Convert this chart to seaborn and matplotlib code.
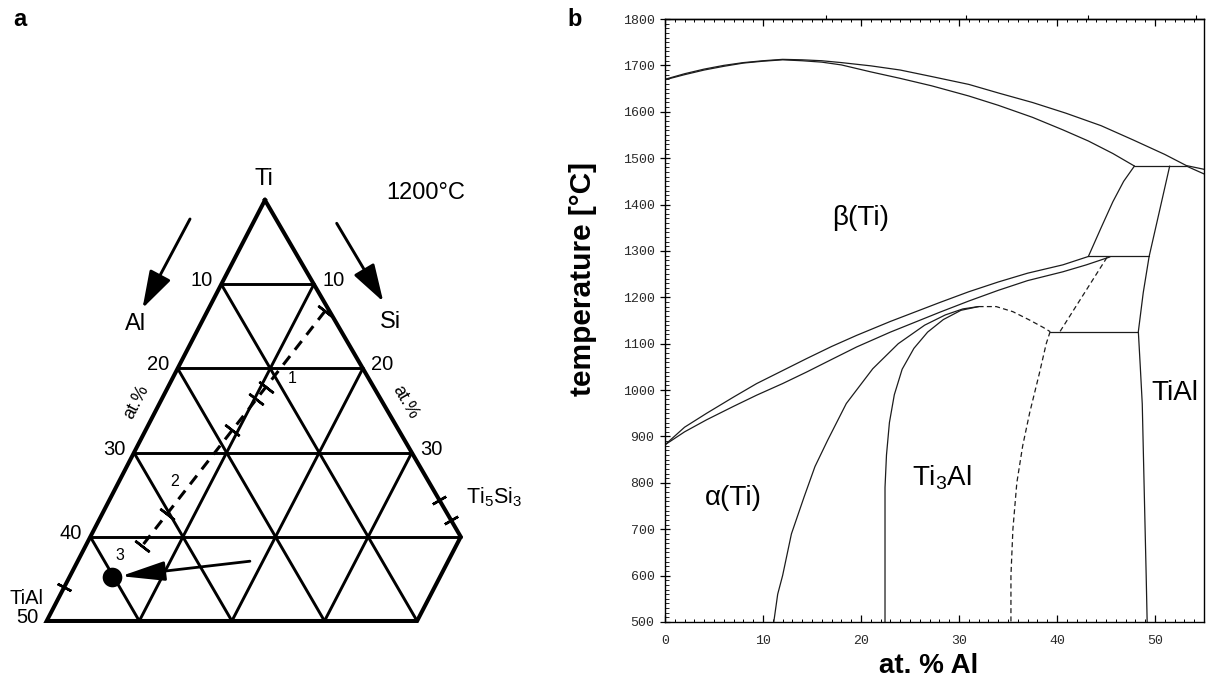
import numpy as np
import pandas as pd
import matplotlib
matplotlib.use("Agg")
import matplotlib.pyplot as plt
from matplotlib.ticker import MultipleLocator
import seaborn as sns

# ================= Panel b : Ti-Al binary phase diagram =================
# composition in at.% Al, temperature in degC
liq_x = [0, 2, 4, 6, 8, 10, 12, 14, 16, 18, 21, 24, 27.2, 31, 34.1, 37.5, 40.9, 44.5, 47.8, 51, 53.2, 55]
liq_t = [1670, 1682, 1692, 1700, 1706, 1710, 1713, 1712, 1710, 1706, 1699, 1690, 1676, 1659, 1640, 1620, 1597, 1570, 1539, 1508, 1484, 1476]
sol_x = [0, 2, 4, 6, 8, 10, 12, 14, 16, 18, 21, 24, 27.2, 31, 34, 37.5, 40.6, 43.2, 45.7, 47.9]
sol_t = [1669, 1680, 1690, 1698, 1705, 1709, 1712, 1710, 1707, 1701, 1686, 1672, 1656, 1634, 1614, 1588, 1561, 1537, 1510, 1483]
peri_x = [47.9, 53.2]
peri_t = [1483, 1483]
liq2_x = [53.2, 55]
liq2_t = [1483, 1466]
btr_x = [47.9, 46.8, 45.7, 44.5, 43.2]
btr_t = [1483, 1450, 1406, 1350, 1288]
tial_x = [51.5, 50.5, 49.4, 48.8, 48.3, 48.5, 48.7, 48.9, 49.1, 49.2]
tial_t = [1483, 1390, 1288, 1210, 1126, 1050, 970, 784, 600, 500]
h1288_x = [43.2, 49.4]
h1288_t = [1288, 1288]
h1126_x = [39.3, 48.3]
h1126_t = [1126, 1126]
ab_up_x = [0, 2, 4.25, 7, 9.35, 12, 14.46, 17, 19.56, 23, 28.06, 31, 34, 37, 40.6, 43.2]
ab_up_t = [882, 920, 950, 985, 1014, 1042, 1068, 1094, 1118, 1148, 1189, 1212, 1233, 1252, 1270, 1288]
ab_lo_x = [0, 2, 4.25, 7, 9.35, 12, 14.46, 17, 19.56, 23, 28.06, 31, 34, 37, 40.6, 43, 45.4]
ab_lo_t = [882, 910, 936, 965, 989, 1014, 1039, 1066, 1093, 1125, 1168, 1192, 1215, 1236, 1255, 1270, 1287]
alpha_x = [11.1, 11.5, 12.0, 12.9, 14.2, 15.3, 16.6, 18.5, 21.2, 23.8, 26.5, 28.6, 30.4, 32]
alpha_t = [500, 560, 600, 690, 770, 835, 892, 971, 1046, 1100, 1140, 1162, 1175, 1180]
ti3al_x = [22.45, 22.45, 22.6, 22.9, 23.4, 24.2, 25.4, 26.8, 28.4, 30.2, 32]
ti3al_t = [500, 790, 860, 930, 990, 1045, 1090, 1125, 1152, 1172, 1180]
dome_x = [32, 33.8, 35.5, 37.2, 38.6, 39.3]
dome_t = [1180, 1180, 1169, 1151, 1135, 1126]
dash1_x = [45.1, 40.3]
dash1_t = [1286, 1126]
a2_x = [39.3, 38.9, 38.2, 37.2, 36.5, 35.9, 35.5, 35.3, 35.3]
a2_t = [1126, 1100, 1036, 950, 880, 800, 700, 600, 500]
wt_ticks = [10, 20, 30, 40]          # wt.% Al marks on the top axis

# ================= Panel a : Ti-Al-Si section at 1200 degC =================
grid_ti = [90, 80, 70, 60]
grid_al = [10, 20, 30, 40]
grid_si = [10, 20, 30]
ti_min = 50
si_max = 40
left_vals = [10, 20, 30, 40, 50]      # Al at.% labels
right_vals = [10, 20, 30]             # Si at.% labels
path_al = [0.5, 35.5]                 # dashed composition path (Al, Si)
path_si = [12.7, 6.0]
path_ticks = [0.0, 0.32, 0.37, 0.5, 0.85, 0.985]
dot_al, dot_si = 40.2, 4.6
tail_al, tail_si = 24.3, 18.6
ti5si3_si = [35.6, 38.0]
tial_al = [46.0]

# ------------------------------------------------------------------
sns.set_style("white")
plt.rcParams["font.family"] = ["Liberation Sans", "DejaVu Sans"]
plt.rcParams["mathtext.fontset"] = "custom"
plt.rcParams["mathtext.rm"] = "Liberation Sans"
plt.rcParams["mathtext.it"] = "Liberation Sans:italic"
plt.rcParams["mathtext.bf"] = "Liberation Sans:bold"
plt.rcParams["text.color"] = "black"
plt.rcParams["axes.labelcolor"] = "black"

W, H = 1207, 683
fig = plt.figure(figsize=(W / 100, H / 100), dpi=100)

# ---------------- panel a ----------------
AW = 567.3
ax_a = fig.add_axes([0, 0, AW / W, 1])
ax_a.set_xlim(19.96, 81.22)
ax_a.set_ylim(36.92, 107.19)
ax_a.axis("off")

SHEAR = -0.033


def tern(al, si):
    al = np.asarray(al, float)
    si = np.asarray(si, float)
    ti = 100.0 - al - si
    y = ti * np.sqrt(3) / 2
    x = si + ti / 2 + SHEAR * (y - 43.3)
    return x, y


def apx(px, py):
    return (px / AW, 1 - py / H)


def disp_angle(p0, p1):
    d0 = ax_a.transData.transform(p0)
    d1 = ax_a.transData.transform(p1)
    return np.degrees(np.arctan2(d1[1] - d0[1], d1[0] - d0[0]))


K = "black"
# outer boundary
ox, oy = tern([0, 100 - ti_min, 100 - ti_min - si_max, 0, 0], [0, 0, si_max, si_max, 0])
ax_a.plot(ox, oy, color=K, lw=2.9, solid_joinstyle="miter", solid_capstyle="projecting", zorder=3)
# grid
for t in grid_ti:
    s_end = min(100 - t, si_max)
    gx, gy = tern([100 - t, 100 - t - s_end], [0, s_end])
    ax_a.plot(gx, gy, color=K, lw=2.1, zorder=2)
for a in grid_al:
    gx, gy = tern([a, a], [0, 100 - ti_min - a])
    ax_a.plot(gx, gy, color=K, lw=2.1, zorder=2)
for s in grid_si:
    gx, gy = tern([0, 100 - ti_min - s], [s, s])
    ax_a.plot(gx, gy, color=K, lw=2.1, zorder=2)

# edge labels
for v in left_vals:
    px_, py_ = tern(v, 0)
    ax_a.annotate(str(v), (px_, py_), xytext=(-6, 2.5), textcoords="offset points",
                  ha="right", va="center", fontsize=14.5)
for v in right_vals:
    px_, py_ = tern(0, v)
    ax_a.annotate(str(v), (px_, py_), xytext=(6, 2.5), textcoords="offset points",
                  ha="left", va="center", fontsize=14.5)

left_ang = disp_angle(tern(50, 0), tern(0, 0))
right_ang = disp_angle(tern(0, 0), tern(0, 40))
ax_a.text(*apx(137, 402), "at.%", transform=ax_a.transAxes, rotation=left_ang,
          ha="center", va="center", fontsize=13)
ax_a.text(*apx(405, 402), "at.%", transform=ax_a.transAxes, rotation=right_ang,
          ha="center", va="center", fontsize=13)

# marks on the edges
for s in ti5si3_si:
    mx, my = tern(0, s)
    ax_a.plot([mx], [my], ls="none", marker=(2, 2, right_ang), ms=11, mew=1.8, color=K, zorder=4)
for a in tial_al:
    mx, my = tern(a, 0)
    ax_a.plot([mx], [my], ls="none", marker=(2, 2, left_ang), ms=11, mew=1.8, color=K, zorder=4)

# dashed composition path
pxs, pys = tern(path_al, path_si)
ln, = ax_a.plot(pxs, pys, color=K, lw=2.2, zorder=4)
ln.set_dashes((3.6, 2.6))
path_ang = disp_angle((pxs[1], pys[1]), (pxs[0], pys[0]))
t_arr = np.asarray(path_ticks)
tal = path_al[0] + t_arr * (path_al[1] - path_al[0])
tsi = path_si[0] + t_arr * (path_si[1] - path_si[0])
tx, ty = tern(tal, tsi)
ax_a.plot(tx, ty, ls="none", marker=(2, 2, path_ang), ms=13, mew=1.8, color=K, zorder=4)

# dot and arrow
dx, dy = tern(dot_al, dot_si)
sns.scatterplot(x=[float(dx)], y=[float(dy)], s=200, color=K, edgecolor=K, linewidth=0, ax=ax_a, zorder=6, legend=False)
ax_a.set_xlim(19.96, 81.22)
ax_a.set_ylim(36.92, 107.19)
ax_a.axis("off")
ax_a.annotate("", xy=(float(dx), float(dy)), xytext=tern(tail_al, tail_si),
              arrowprops=dict(arrowstyle="-|>,head_length=1.35,head_width=0.3", mutation_scale=20,
                              lw=2.0, color=K, shrinkA=0, shrinkB=6.5), zorder=6)

# arrows and text
arrow_kw = dict(arrowstyle="-|>,head_length=1.15,head_width=0.36", mutation_scale=20,
                lw=2.1, color=K, shrinkA=0, shrinkB=0)
ax_a.annotate("", xy=apx(142.5, 308.3), xytext=apx(190, 219), xycoords="axes fraction",
              textcoords="axes fraction", arrowprops=arrow_kw)
ax_a.annotate("", xy=apx(383.3, 301.7), xytext=apx(336.7, 223.3), xycoords="axes fraction",
              textcoords="axes fraction", arrowprops=arrow_kw)
ax_a.text(*apx(264, 179), "Ti", transform=ax_a.transAxes, ha="center", va="center", fontsize=17)
ax_a.text(*apx(136, 324), "Al", transform=ax_a.transAxes, ha="center", va="center", fontsize=17)
ax_a.text(*apx(390, 322), "Si", transform=ax_a.transAxes, ha="center", va="center", fontsize=17)
ax_a.text(*apx(426, 193), "1200°C", transform=ax_a.transAxes, ha="center", va="center", fontsize=17)
ax_a.text(*apx(466, 497), r"Ti$_\mathregular{5}$Si$_\mathregular{3}$", transform=ax_a.transAxes,
          ha="left", va="center", fontsize=15.5)
ax_a.text(*apx(26, 599), "TiAl", transform=ax_a.transAxes, ha="center", va="center", fontsize=14.5)
ax_a.text(*apx(291.7, 378.3), "1", transform=ax_a.transAxes, ha="center", va="center", fontsize=11.5)
ax_a.text(*apx(175, 482), "2", transform=ax_a.transAxes, ha="center", va="center", fontsize=11.5)
ax_a.text(*apx(120, 555), "3", transform=ax_a.transAxes, ha="center", va="center", fontsize=11.5)
ax_a.text(*apx(20, 20), "a", transform=ax_a.transAxes, ha="center", va="center",
          fontsize=17, fontweight="bold")

# ---------------- panel b ----------------
ax_b = fig.add_axes([665 / W, 1 - 622 / H, 539 / W, 603 / H])
LC = "#1c1c1c"
solid_curves = [(liq_x, liq_t), (sol_x, sol_t), (peri_x, peri_t), (liq2_x, liq2_t),
                (btr_x, btr_t), (tial_x, tial_t), (h1288_x, h1288_t), (h1126_x, h1126_t),
                (ab_up_x, ab_up_t), (ab_lo_x, ab_lo_t), (alpha_x, alpha_t), (ti3al_x, ti3al_t)]
dashed_curves = [(dome_x, dome_t), (dash1_x, dash1_t), (a2_x, a2_t)]
for cx, ct in solid_curves:
    sns.lineplot(x=cx, y=ct, sort=False, estimator=None, color=LC, lw=0.9, ax=ax_b)
for cx, ct in dashed_curves:
    sns.lineplot(x=cx, y=ct, sort=False, estimator=None, color=LC, lw=0.9, ax=ax_b)
    ax_b.lines[-1].set_dashes((4, 2.6))

ax_b.set_xlim(0, 55)
ax_b.set_ylim(500, 1800)
ax_b.xaxis.set_major_locator(MultipleLocator(10))
ax_b.xaxis.set_minor_locator(MultipleLocator(1))
ax_b.yaxis.set_major_locator(MultipleLocator(100))
ax_b.yaxis.set_minor_locator(MultipleLocator(10))
ax_b.tick_params(axis="x", which="major", direction="in", length=5, width=0.9,
                 top=True, bottom=True, pad=9, color=K)
ax_b.tick_params(axis="x", which="minor", direction="in", length=2.5, width=0.7,
                 top=True, bottom=True, color=K)
ax_b.tick_params(axis="y", which="major", direction="inout", length=7, width=0.9,
                 left=True, right=False, pad=4, color=K)
ax_b.tick_params(axis="y", which="minor", direction="in", length=2.8, width=0.6,
                 left=True, right=False, color=K)
for lab in ax_b.get_xticklabels() + ax_b.get_yticklabels():
    lab.set_fontfamily("Liberation Mono")
    lab.set_fontsize(9.5)
    lab.set_color("#2a2a2a")
for sp in ax_b.spines.values():
    sp.set_color(K)
    sp.set_linewidth(1.0)


def at2wt(a):
    a = np.asarray(a, float)
    return a * 26.98 / (a * 26.98 + (100 - a) * 47.87) * 100


def wt2at(w):
    w = np.asarray(w, float)
    return (w / 26.98) / (w / 26.98 + (100 - w) / 47.87) * 100


sec = ax_b.secondary_xaxis("top", functions=(at2wt, wt2at))
sec.set_xticks(wt_ticks)
sec.tick_params(axis="x", direction="out", length=3, width=0.8, labeltop=False, color=K)
sec.spines["top"].set_linewidth(1.0)
sec.spines["top"].set_color(K)

ax_b.set_xlabel("at. % Al", fontsize=20, fontweight="bold", va="center", color=K)
ax_b.xaxis.set_label_coords(0.49, -0.073)
ax_b.set_ylabel("temperature [°C]", fontsize=21.5, fontweight="bold", va="center", color=K)
ax_b.yaxis.set_label_coords(-0.152, 0.569)

ax_b.text(20, 1372, "β(Ti)", fontsize=20, ha="center", va="center", color=K)
ax_b.text(7.0, 768, "α(Ti)", fontsize=20, ha="center", va="center", color=K)
ax_b.text(28.3, 812, r"Ti$_\mathregular{3}$Al", fontsize=20, ha="center", va="center", color=K)
ax_b.text(52.0, 993, "TiAl", fontsize=20, ha="center", va="center", color=K)
fig.text(575 / W, 1 - 20 / H, "b", fontsize=17, fontweight="bold", ha="center", va="center", color=K)

fig.savefig("out.png", dpi=100)
